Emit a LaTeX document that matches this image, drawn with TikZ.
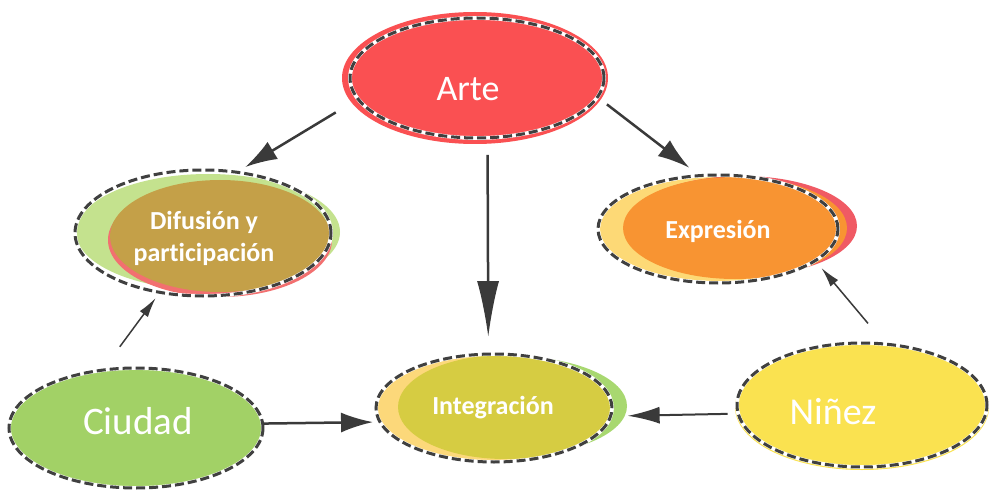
\documentclass[tikz,border=0pt]{standalone}
\usepackage{fontspec}
\setmainfont{Carlito}[Ligatures=NoCommon]
\usetikzlibrary{shapes.geometric,arrows.meta}
\definecolor{artered}{RGB}{250,80,82}
\definecolor{difgreen}{RGB}{196,226,142}
\definecolor{difbrown}{RGB}{196,160,72}
\definecolor{difpink}{RGB}{242,112,112}
\definecolor{expyellow}{RGB}{253,217,118}
\definecolor{expred}{RGB}{240,90,100}
\definecolor{exporange}{RGB}{248,148,50}
\definecolor{intpeach}{RGB}{252,216,122}
\definecolor{intgreen}{RGB}{168,216,112}
\definecolor{intolive}{RGB}{214,204,66}
\definecolor{ciugreen}{RGB}{162,209,102}
\definecolor{ninyellow}{RGB}{250,226,80}
\definecolor{ringgray}{RGB}{64,64,64}
\definecolor{arrgray}{RGB}{58,58,58}
\begin{document}
\begin{tikzpicture}[x=1pt,y=-1pt,
  dashring/.style={ellipse, draw=ringgray, line width=3pt, dash pattern=on 9pt off 4pt,
    inner sep=0pt, outer sep=0pt,
    preaction={draw=white, line width=3.8pt, solid}},
  bigtext/.style={text=white, font=\fontsize{36}{40}\selectfont, inner sep=0pt},
  smalltext/.style={text=white, font=\bfseries\fontsize{26}{32}\selectfont, inner sep=0pt, align=center},
  arrbig/.style={draw=arrgray, line width=2.5pt, -{Latex[length=32pt,width=20pt]}},
  arrmid/.style={draw=arrgray, line width=2pt, -{Latex[length=32pt,width=17pt]}},
  arrthin/.style={draw=arrgray, line width=1.5pt, -{Latex[length=20pt,width=10pt]}}]
\useasboundingbox (0,0) rectangle (989,492);
\fill[white] (0,0) rectangle (989,492);

% Arte
\fill[artered] (475,78) ellipse [x radius=133pt, y radius=66pt];
\node[dashring, minimum width=254pt, minimum height=120pt] (arte) at (477,78) {};
\node[bigtext] (artet) at (468,89) {Arte};

% Difusion y participacion
\fill[difgreen] (208,232) ellipse [x radius=132pt, y radius=58pt];
\fill[difpink] (220,240) ellipse [x radius=112pt, y radius=57pt];
\fill[difbrown] (220,236) ellipse [x radius=110pt, y radius=56pt];
\node[dashring, minimum width=256pt, minimum height=126pt] (dif) at (203,233) {};
\node[smalltext] (dift) at (204,238) {Difusión y\\participación};

% Expresion
\fill[expyellow] (718,229) ellipse [x radius=118pt, y radius=52pt];
\fill[expred] (742,226) ellipse [x radius=115pt, y radius=50pt];
\fill[exporange] (735,228) ellipse [x radius=112pt, y radius=51pt];
\node[dashring, minimum width=240pt, minimum height=108pt] (exp) at (718,229) {};
\node[smalltext] (expt) at (718,231) {Expresión};

% Integracion
\fill[intgreen] (510,406) ellipse [x radius=117pt, y radius=50pt];
\fill[intpeach] (490,408) ellipse [x radius=114pt, y radius=53pt];
\fill[intolive] (505,407) ellipse [x radius=107pt, y radius=52pt];
\node[dashring, minimum width=236pt, minimum height=108pt] (integ) at (494,408) {};
\node[smalltext] (integt) at (493,408) {Integración};

% Ciudad
\fill[ciugreen] (136,428) ellipse [x radius=128pt, y radius=60pt];
\node[dashring, minimum width=254pt, minimum height=120pt] (ciudad) at (136,428) {};
\node[bigtext, font=\fontsize{39}{42}\selectfont] (ciudadt) at (138,421) {Ciudad};

% Ninez
\fill[ninyellow] (862,407) ellipse [x radius=127pt, y radius=63pt];
\node[dashring, minimum width=250pt, minimum height=124pt] (ninez) at (862,405) {};
\node[bigtext, font=\fontsize{38}{42}\selectfont] (ninezt) at (833,412) {Niñez};

% Connectors
\draw[arrbig, shorten <=26pt, shorten >=10pt] (arte.190) -- (dif.61);
\draw[arrbig, shorten <=12pt, shorten >=13pt] (arte.351.4) -- (exp.109.2);
\draw[arrbig, -{Latex[length=56pt,width=22pt]}, shorten <=17pt, shorten >=17pt] (arte.280.4) -- (integ.96.35);
\draw[arrbig, shorten <=1pt, shorten >=7pt] (ciudad.2.7) -- (integ.187);
\draw[arrmid, shorten <=10.6pt, shorten >=17pt] (ninez.184.6) -- (integ.356.6);
\draw[arrthin, shorten <=29pt, shorten >=7pt] (ciudad.120) -- (dif.234.9);
\draw[arrthin, shorten <=27pt, shorten >=9.5pt] (ninez.69.3) -- (exp.342.8);
\end{tikzpicture}
\end{document}
